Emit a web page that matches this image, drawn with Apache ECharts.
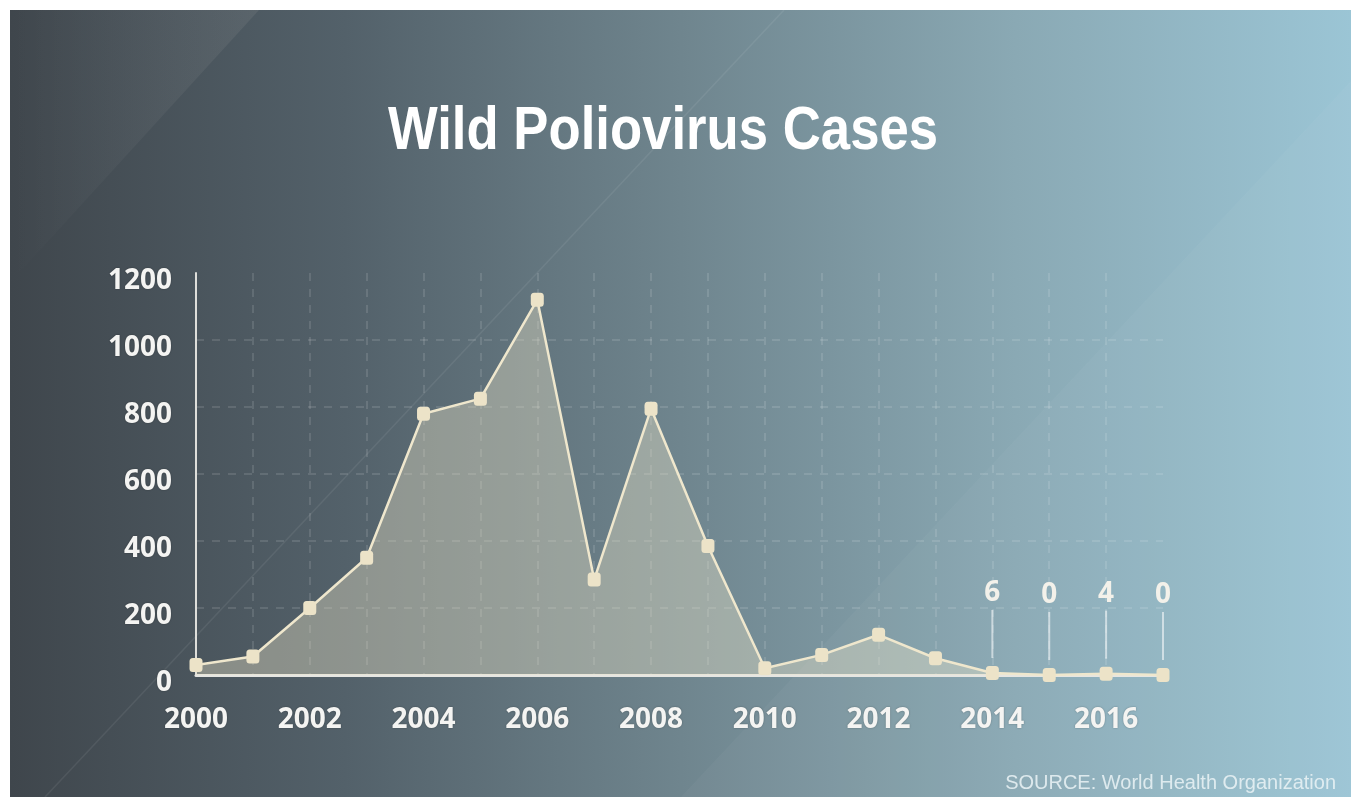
<!DOCTYPE html>
<html>
<head>
<meta charset="utf-8">
<title>Wild Poliovirus Cases</title>
<script src="https://cdn.jsdelivr.net/npm/echarts@6/dist/echarts.min.js"></script>
<style>
  html, body { margin: 0; padding: 0; background: #ffffff; }
  #chart { width: 1351px; height: 797px; }
</style>
</head>
<body>
<div id="chart"></div>
<script>
// data
var years = ['2000', '2001', '2002', '2003', '2004', '2005', '2006', '2007', '2008',
             '2009', '2010', '2011', '2012', '2013', '2014', '2015', '2016', '2017'];
var cases = [30, 55, 200, 350, 780, 825, 1120, 285, 795, 385, 20, 60, 120, 50, 6, 0, 4, 0];
var calloutYears = ['2014', '2015', '2016', '2017'];   // points with the number + stick above
var yTicks = [0, 200, 400, 600, 800, 1000, 1200];

var titleText = 'Wild Poliovirus Cases';
var sourceText = 'SOURCE: World Health Organization';

var labelFont = '"Noto Sans", sans-serif';
var cream = '#ece3c8';

var chart = echarts.init(document.getElementById('chart'));

// points for the last years get a number and a thin stick on top
var seriesData = cases.map(function (v, i) {
    if (calloutYears.indexOf(years[i]) < 0) return v;
    return {
        value: v,
        label: {
            show: true,
            position: 'top',
            distance: 8,
            formatter: '{v|{c}}\n{l|}',
            rich: {
                v: {
                    fontFamily: labelFont, fontSize: 28, fontWeight: 'bold',
                    color: '#f3f1ea', lineHeight: 34, align: 'center'
                },
                l: {
                    width: 2, height: 48, align: 'center',
                    backgroundColor: 'rgba(255,255,255,0.55)'
                }
            }
        }
    };
});

var option = {
    animation: false,
    graphic: [
        {   // background
            type: 'rect', z: -20, silent: true,
            shape: { x: 10, y: 10, width: 1341, height: 787 },
            style: {
                fill: new echarts.graphic.LinearGradient(0, 0, 1, 0, [
                    { offset: 0, color: '#3f464c' },
                    { offset: 0.25, color: '#53616a' },
                    { offset: 0.5, color: '#6f858e' },
                    { offset: 0.75, color: '#8aa9b4' },
                    { offset: 1, color: '#9bc5d5' }
                ])
            }
        },
        {   // light wedge top left
            type: 'polygon', z: -19, silent: true,
            shape: { points: [[10, 10], [259, 10], [10, 283]] },
            style: {
                fill: new echarts.graphic.LinearGradient(0, 0, 1, 0, [
                    { offset: 0, color: 'rgba(255,255,255,0)' },
                    { offset: 1, color: 'rgba(235,225,215,0.08)' }
                ])
            }
        },
        {   // faint wedge bottom right
            type: 'polygon', z: -19, silent: true,
            shape: { points: [[1351, 81], [1351, 797], [681, 797]] },
            style: { fill: 'rgba(255,255,255,0.03)' }
        },
        {   // faint diagonal streak
            type: 'line', z: -18, silent: true,
            shape: { x1: 784, y1: 10, x2: 45, y2: 797 },
            style: { stroke: 'rgba(255,255,255,0.07)', lineWidth: 1.5 }
        },
        {
            type: 'text', z: 10, silent: true,
            x: 663, y: 132,
            scaleX: 0.85,
            style: {
                text: titleText,
                fontFamily: '"Liberation Sans", sans-serif',
                fontSize: 62, fontWeight: 'bold',
                fill: '#ffffff',
                align: 'center', verticalAlign: 'middle',
                shadowColor: 'rgba(0,0,0,0.35)', shadowBlur: 3, shadowOffsetY: 1
            }
        },
        {
            type: 'text', z: 10, silent: true,
            x: 1336, y: 783,
            style: {
                text: sourceText,
                fontFamily: '"Liberation Sans", sans-serif',
                fontSize: 20,
                fill: 'rgba(235,243,246,0.85)',
                align: 'right', verticalAlign: 'middle'
            }
        }
    ],
    grid: {
        left: 196, right: 188, top: 273, bottom: 122,
        containLabel: false, outerBoundsMode: 'none'
    },
    xAxis: {
        type: 'category',
        data: years,
        boundaryGap: false,
        axisLine: { show: true, lineStyle: { color: '#e6e6e2', width: 3 } },
        axisTick: { show: false },
        axisLabel: {
            interval: 1,
            margin: 31,
            fontFamily: labelFont, fontSize: 28, fontWeight: 'bold',
            color: '#f4f4f2',
            textShadowColor: 'rgba(0,0,0,0.3)', textShadowBlur: 2
        },
        splitLine: {
            show: true,
            interval: 0,
            showMaxLine: false,
            lineStyle: { color: 'rgba(255,255,255,0.16)', width: 1.5, type: [8, 8] }
        }
    },
    yAxis: {
        type: 'value',
        min: yTicks[0],
        max: yTicks[yTicks.length - 1],
        interval: yTicks[1] - yTicks[0],
        axisLine: { show: true, lineStyle: { color: '#dededa', width: 2 } },
        axisTick: { show: false },
        axisLabel: {
            margin: 24,
            verticalAlign: 'top',
            lineHeight: 16,
            formatter: function (v) { return String(v); },
            fontFamily: labelFont, fontSize: 28, fontWeight: 'bold',
            color: '#f4f4f2',
            textShadowColor: 'rgba(0,0,0,0.3)', textShadowBlur: 2
        },
        splitLine: {
            show: true,
            showMinLine: false,
            showMaxLine: false,
            lineStyle: { color: 'rgba(255,255,255,0.16)', width: 1.5, type: [8, 8] }
        }
    },
    series: [{
        type: 'line',
        data: seriesData,
        symbol: 'roundRect',
        symbolSize: [13, 14],
        itemStyle: { color: cream },
        lineStyle: { color: '#efe7cd', width: 2.5 },
        areaStyle: { color: 'rgba(236,228,200,0.55)' },
        z: 3
    }]
};

chart.setOption(option);
</script>
</body>
</html>
